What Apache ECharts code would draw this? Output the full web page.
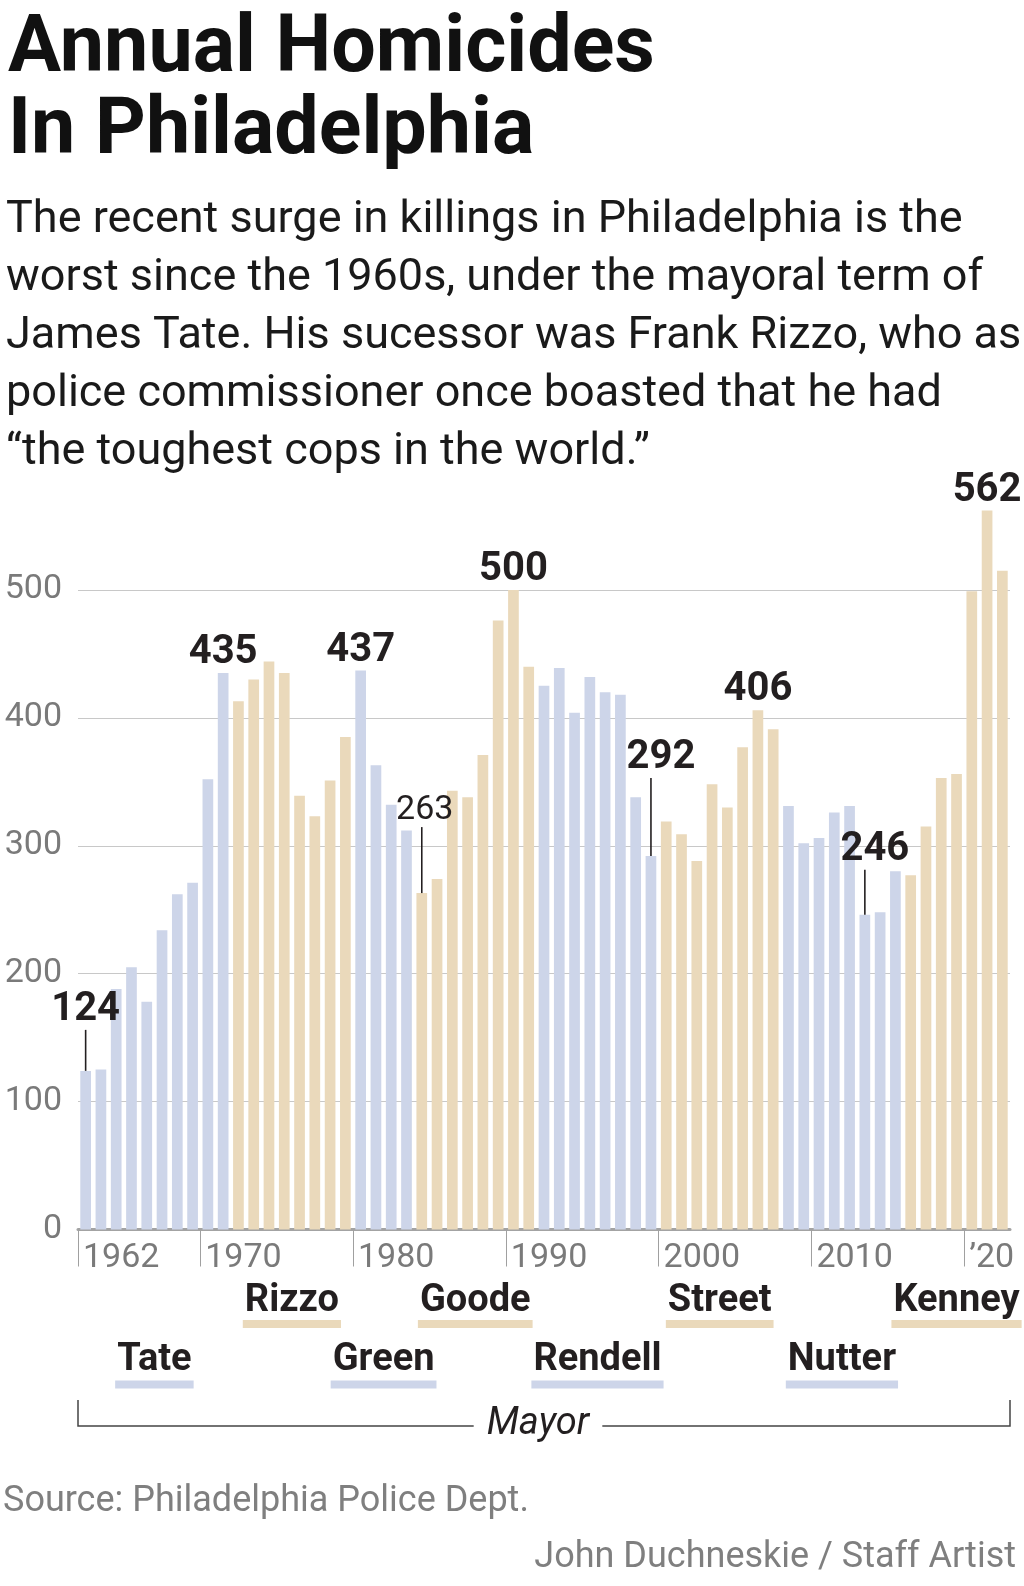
<!DOCTYPE html>
<html>
<head>
<meta charset="utf-8">
<script src="https://cdn.jsdelivr.net/npm/echarts@6/dist/echarts.min.js"></script>
<style>
html,body{margin:0;padding:0;background:#ffffff;}
#chart{width:1024px;height:1586px;}
</style>
</head>
<body>
<div id="chart"></div>
<script>
// ---------------- data ----------------
const years = [1962,1963,1964,1965,1966,1967,1968,1969,1970,1971,
  1972,1973,1974,1975,1976,1977,1978,1979,1980,1981,
  1982,1983,1984,1985,1986,1987,1988,1989,1990,1991,
  1992,1993,1994,1995,1996,1997,1998,1999,2000,2001,
  2002,2003,2004,2005,2006,2007,2008,2009,2010,2011,
  2012,2013,2014,2015,2016,2017,2018,2019,2020,2021,2022];
const homicides = [124,125,188,205,178,234,262,271,352,435,
  413,430,444,435,339,323,351,385,437,363,
  332,312,263,274,343,338,371,476,500,440,
  425,439,404,432,420,418,338,292,319,309,
  288,348,330,377,406,391,331,302,306,326,
  331,246,248,280,277,315,353,356,499,562,515];
const tickYears = [1962,1970,1980,1990,2000,2010,2020];
const tickLabels = ['1962','1970','1980','1990','2000','2010','\u201920'];
const mayorNames = ['Tate','Rizzo','Green','Goode','Rendell','Street','Nutter','Kenney'];
const mayorStart = [1962,1972,1980,1984,1992,2000,2008,2016];
const mayorEnd   = [1971,1979,1983,1991,1999,2007,2015,2022];
const labeledYears = [1962,1971,1980,1984,1990,1999,2006,2013,2021];

const titleText = 'Annual Homicides\nIn Philadelphia';
const subtitleLines = [
  'The recent surge in killings in Philadelphia is the',
  'worst since the 1960s, under the mayoral term of',
  'James Tate. His sucessor was Frank Rizzo, who as',
  'police commissioner once boasted that he had',
  '\u201cthe toughest cops in the world.\u201d'
];
const sourceText = 'Source: Philadelphia Police Dept.';
const creditText = 'John Duchneskie / Staff Artist';
const bracketText = 'Mayor';

// ---------------- styles ----------------
const FONT = 'Roboto';
const BLUE = '#CDD5E9';
const BEIGE = '#EAD9BB';
const INK = '#231f20';
// leader-line annotations (pixel lengths / shifts, style only)
const annoStyle = {
  1962: {leader: 41, shift: 0, light: false},
  1984: {leader: 66, shift: 3, light: true},
  1999: {leader: 78, shift: 10, light: false},
  2013: {leader: 45, shift: 10, light: false}
};

const measureCtx = document.createElement('canvas').getContext('2d');
function textWidth(str, font) { measureCtx.font = font; return measureCtx.measureText(str).width; }

function mayorIndexOf(year) {
  for (let m = 0; m < mayorNames.length; m++) {
    if (year >= mayorStart[m] && year <= mayorEnd[m]) return m;
  }
  return 0;
}
function mayorColor(m) { return m % 2 === 0 ? BLUE : BEIGE; }

const barData = homicides.map((v, i) => {
  const y = years[i];
  const item = { value: v, itemStyle: { color: mayorColor(mayorIndexOf(y)) } };
  if (labeledYears.indexOf(y) >= 0) {
    const st = annoStyle[y];
    if (st) {
      const numTok = st.light ? 'n' : 'b';
      const first = (st.shift ? '{s|}' : '') + '{' + numTok + '|' + v + '}';
      item.label = {
        show: true, position: 'top', distance: 0,
        formatter: first + '\n{l| }',
        rich: {
          b: {fontFamily: FONT, fontWeight: 'bold', fontSize: 40, lineHeight: 40, color: INK, align: 'center'},
          n: {fontFamily: FONT, fontWeight: 'normal', fontSize: 34, lineHeight: 34, color: INK, align: 'center'},
          s: {width: st.shift * 2, height: 10, align: 'center'},
          l: {width: 1.6, height: st.leader, lineHeight: st.leader, backgroundColor: INK, align: 'center', fontSize: 2}
        }
      };
    } else {
      item.label = {
        show: true, position: 'top', distance: -1,
        formatter: '{b|' + v + '}',
        rich: { b: {fontFamily: FONT, fontWeight: 'bold', fontSize: 40, lineHeight: 42, color: INK, align: 'center'} }
      };
    }
  }
  return item;
});

const mayorData = mayorNames.map((n, m) => [years.indexOf(mayorStart[m]), years.indexOf(mayorEnd[m]), 0]);

function renderMayor(params, api) {
  const m = params.dataIndex;
  const p0 = api.coord([api.value(0), 0]);
  const p1 = api.coord([api.value(1), 0]);
  const cx = (p0[0] + p1[0]) / 2;
  const base = p0[1];
  const upper = m % 2 === 1;
  const name = mayorNames[m];
  const font = 'bold 38px ' + FONT;
  const w = textWidth(name, font) + 4;
  const ty = base + (upper ? 72 : 131);
  const uy = base + (upper ? 90.5 : 151);
  return {
    type: 'group',
    children: [
      {type: 'text', style: {text: name, x: cx, y: ty, align: 'center', verticalAlign: 'middle', font: font, fill: INK}},
      {type: 'rect', shape: {x: cx - w / 2, y: uy, width: w, height: 8}, style: {fill: mayorColor(m)}}
    ]
  };
}

function renderBracket(params, api) {
  const p0 = api.coord([api.value(0), 0]);
  const p1 = api.coord([api.value(1), 0]);
  const bw = api.size([1, 0])[0];
  const x0 = p0[0] - bw / 2, x1 = p1[0] + bw / 2;
  const base = p0[1];
  const yb = base + 196.5, yt = base + 170.5;
  const cx = (x0 + x1) / 2 - 6;
  const font = 'italic 38px ' + FONT;
  const tw = textWidth(bracketText, font);
  const ls = {stroke: '#444', lineWidth: 1.5, fill: null};
  return {
    type: 'group',
    children: [
      {type: 'polyline', shape: {points: [[x0, yt], [x0, yb], [cx - tw / 2 - 13, yb]]}, style: ls},
      {type: 'polyline', shape: {points: [[cx + tw / 2 + 13, yb], [x1, yb], [x1, yt]]}, style: ls},
      {type: 'text', style: {text: bracketText, x: cx, y: base + 195, align: 'center', verticalAlign: 'middle', font: font, fill: INK}}
    ]
  };
}

const chart = echarts.init(document.getElementById('chart'), null, {renderer: 'canvas'});
chart.setOption({
  animation: false,
  backgroundColor: '#ffffff',
  title: [
    {text: titleText, left: 8, top: 10, padding: 0,
     textStyle: {fontFamily: FONT, fontWeight: 'bold', fontSize: 79, lineHeight: 82, color: '#111111'}},
    {text: subtitleLines.join('\n'), left: 6, top: 192, padding: 0,
     textStyle: {fontFamily: FONT, fontWeight: 'normal', fontSize: 45, lineHeight: 58, color: '#1a1a1a'}},
    {text: sourceText, left: 3, top: 1484, padding: 0,
     textStyle: {fontFamily: FONT, fontWeight: 'normal', fontSize: 36, color: '#7f7f7f'}},
    {text: creditText, right: 8, top: 1540, padding: 0,
     textStyle: {fontFamily: FONT, fontWeight: 'normal', fontSize: 36, color: '#7f7f7f'}}
  ],
  grid: {left: 78, right: 14, top: 462, bottom: 356.5, containLabel: false, outerBoundsMode: 'none'},
  xAxis: [
    {type: 'category', data: years.map(String), boundaryGap: true,
     axisLine: {show: true, lineStyle: {color: '#a3a3a3', width: 3}},
     axisTick: {show: false}, axisLabel: {show: false}, splitLine: {show: false}},
    {type: 'value', position: 'bottom', min: years[0] - 0.5, max: years[years.length - 1] + 0.5,
     axisLine: {show: false}, splitLine: {show: false},
     axisTick: {show: true, length: 37, customValues: tickYears.map(y => y - 0.5), lineStyle: {color: '#a0a0a0', width: 1}},
     axisLabel: {show: true, customValues: tickYears.map(y => y - 0.5), align: 'left', margin: 12,
       padding: [0, 0, 0, 5], fontFamily: FONT, fontSize: 34, color: '#7a7a7a',
       formatter: v => { const k = tickYears.indexOf(Math.round(v + 0.5)); return k >= 0 ? tickLabels[k] : ''; }}}
  ],
  yAxis: {
    type: 'value', min: 0, max: 600, interval: 100,
    axisLine: {show: false}, axisTick: {show: false},
    axisLabel: {fontFamily: FONT, fontSize: 34, color: '#7a7a7a', margin: 16,
      formatter: v => (v >= 600 ? '' : String(v))},
    splitLine: {show: true, showMaxLine: false, lineStyle: {color: '#c8c8c8', width: 1}}
  },
  series: [
    {type: 'bar', xAxisIndex: 0, yAxisIndex: 0, barCategoryGap: '30%', data: barData, z: 2},
    {type: 'custom', xAxisIndex: 0, yAxisIndex: 0, data: mayorData, encode: {x: [0, 1], y: 2},
     renderItem: renderMayor, clip: false, silent: true, z: 3},
    {type: 'custom', xAxisIndex: 0, yAxisIndex: 0, data: [[0, years.length - 1, 0]], encode: {x: [0, 1], y: 2},
     renderItem: renderBracket, clip: false, silent: true, z: 3}
  ]
});
</script>
</body>
</html>
